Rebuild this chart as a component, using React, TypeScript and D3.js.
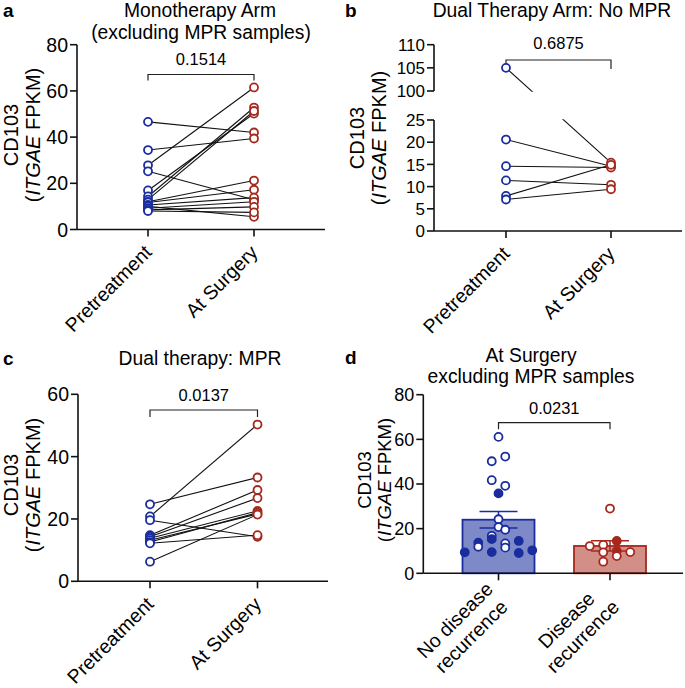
import React from "react";
import * as d3 from "d3";

// ---------- data ----------
const phases = ["Pretreatment", "At Surgery"];

// a: Monotherapy arm (excluding MPR samples)
const monoPre = [46.6, 34.4, 27.8, 25.2, 16.9, 14.3, 12.9, 12.0, 11.7, 10.6, 10.0, 9.2, 8.5, 8.0];
const monoSurgery = [42.0, 39.4, 61.5, 12.9, 50.2, 52.8, 51.3, 21.2, 17.2, 13.8, 5.5, 12.0, 9.8, 7.4];

// b: Dual therapy arm, no MPR
const dualNoPre = [105, 20.6, 14.6, 11.4, 7.9, 7.1];
const dualNoSurgery = [15.4, 14.6, 14.3, 10.4, 14.9, 9.4];

// c: Dual therapy, MPR
const mprPre = [24.7, 20.8, 19.6, 14.8, 14.3, 13.8, 13.2, 12.6, 12.2, 6.3];
const mprSurgery = [33.3, 50.3, 14.3, 29.3, 26.7, 22.6, 21.6, 22.0, 14.8, 21.4];

// d: At surgery, excluding MPR samples
const groupsD = [["No disease", "recurrence"], ["Disease", "recurrence"]];
const noRecurValues = [61.1, 50.2, 52.3, 41.7, 39.2, 35.8, 24.2, 20.7, 16.8, 19.5, 13.7, 15.3, 13.4, 14.5, 9.4, 11.9, 9.5, 11.5, 9.1, 10.3];
const noRecurSolid = [false, false, false, false, false, true, false, false, false, false, true, true, false, true, true, false, true, false, true, true];
const recurValues = [29.0, 12.7, 14.5, 12.2, 9.4, 10.0, 9.5, 5.2, 7.7];
const recurSolid = [false, false, true, false, false, true, false, false, false];

const ticksA = [0, 20, 40, 60, 80];
const ticksBLow = [0, 5, 10, 15, 20, 25];
const ticksBHigh = [100, 105, 110];
const ticksC = [0, 20, 40, 60];
const ticksD = [0, 20, 40, 60, 80];
const pValues = ["0.1514", "0.6875", "0.0137", "0.0231"];

// ---------- style ----------
const FONT = "Arial, 'Liberation Sans', Helvetica, sans-serif";
const BLUE = "#1a2d9e";
const RED = "#a5281c";
const BLUE_FILL = "#7e89c8";
const RED_FILL = "#d28f88";
const R = 4;
const SW = 1.8;
const TITLE = 19.3;
const PFS = 16.5;

function YLabel({ x, y, size, gap }: { x: number; y: number; size: number; gap: number }) {
  return (
    <g transform={`translate(${x},${y}) rotate(-90)`} fontSize={size} textAnchor="middle">
      <text x={0} y={0}>CD103</text>
      <text x={0} y={gap}>
        (<tspan fontStyle="italic">ITGAE</tspan> FPKM)
      </text>
    </g>
  );
}

function Bracket({ x1, x2, y, drop, text, textY }: any) {
  return (
    <g>
      <path d={`M${x1},${y + drop}V${y}H${x2}V${y + drop}`} fill="none" stroke="#222" strokeWidth={1.2} />
      <text x={(x1 + x2) / 2} y={textY} textAnchor="middle" fontSize={PFS}>{text}</text>
    </g>
  );
}

function YAxis({ x, scale, ticks, size, from, to }: any) {
  return (
    <g>
      <line x1={x} x2={x} y1={scale(from)} y2={scale(to)} stroke="#111" strokeWidth={1.6} />
      {ticks.map((t: number) => (
        <g key={t}>
          <line x1={x - 7} x2={x} y1={scale(t)} y2={scale(t)} stroke="#111" strokeWidth={1.6} />
          <text x={x - 9} y={scale(t)} dy="0.36em" textAnchor="end" fontSize={size}>{t}</text>
        </g>
      ))}
    </g>
  );
}

function XAxis({ x0, x1, y, xs, labels, size }: any) {
  return (
    <g>
      <line x1={x0} x2={x1} y1={y} y2={y} stroke="#111" strokeWidth={1.6} />
      {xs.map((xx: number, i: number) => (
        <g key={i}>
          <line x1={xx} x2={xx} y1={y} y2={y + 7} stroke="#111" strokeWidth={1.6} />
          <g transform={`translate(${xx},${y}) rotate(-45)`}>
            <text x={-13.5} y={20.5} textAnchor="end" fontSize={size}>{labels[i]}</text>
          </g>
        </g>
      ))}
    </g>
  );
}

function PairMarks({ pre, post, x, y }: any) {
  return (
    <g>
      {pre.map((v: number, i: number) => (
        <line key={"l" + i} x1={x(phases[0])} x2={x(phases[1])} y1={y(v)} y2={y(post[i])} stroke="#111" strokeWidth={1.1} />
      ))}
    </g>
  );
}

function PairPoints({ pre, post, x, y }: any) {
  return (
    <g>
      {pre.map((v: number, i: number) => (
        <circle key={"p" + i} cx={x(phases[0])} cy={y(v)} r={R} fill="white" stroke={BLUE} strokeWidth={SW} />
      ))}
      {post.map((v: number, i: number) => (
        <circle key={"s" + i} cx={x(phases[1])} cy={y(v)} r={R} fill="white" stroke={RED} strokeWidth={SW} />
      ))}
    </g>
  );
}

// Prism-like row scatter: points whose pixel heights are close share a row and spread symmetrically
function rowScatter(vals: number[], y: (v: number) => number, cx: number, rowH: number, spacing: number) {
  const order = vals.map((_, i) => i).sort((a, b) => vals[a] - vals[b]);
  const rows: number[][] = [];
  let cur: number[] = [];
  let startY = 0;
  for (const i of order) {
    const py = y(vals[i]);
    if (cur.length && startY - py >= rowH) {
      rows.push(cur);
      cur = [];
    }
    if (!cur.length) startY = py;
    cur.push(i);
  }
  if (cur.length) rows.push(cur);
  const out: { x: number; y: number }[] = new Array(vals.length);
  for (const row of rows) {
    const r = [...row].sort((a, b) => a - b);
    const n = r.length;
    r.forEach((i, k) => {
      out[i] = { x: cx + (k - (n - 1) / 2) * spacing, y: y(vals[i]) };
    });
  }
  return out;
}

export default function App() {
  // ----- panel a -----
  const xA = d3.scalePoint<string>().domain(phases).range([148, 254]);
  const yA = d3.scaleLinear().domain([0, 80]).range([229.5, 44.7]);

  // ----- panel b (broken axis) -----
  const xB = d3.scalePoint<string>().domain(phases).range([506, 611]);
  const yBLow = d3.scaleLinear().domain([0, 25]).range([231, 120]);
  const yBHigh = d3.scaleLinear().domain([100, 110]).range([91, 44.7]);
  const yB = (v: number) => (v <= 25 ? yBLow(v) : yBHigh(v));

  // ----- panel c -----
  const xC = d3.scalePoint<string>().domain(phases).range([150, 257.5]);
  const yC = d3.scaleLinear().domain([0, 60]).range([581.3, 394.3]);

  // ----- panel d -----
  const xD = d3.scalePoint<string>().domain(["0", "1"]).range([498.5, 610]);
  const yD = d3.scaleLinear().domain([0, 80]).range([573.3, 394.7]);
  const groupData = [
    { vals: noRecurValues, solid: noRecurSolid, stroke: BLUE, fill: BLUE_FILL },
    { vals: recurValues, solid: recurSolid, stroke: RED, fill: RED_FILL },
  ];
  const barW = 72;

  return (
    <svg width={685} height={688} style={{ position: "absolute", left: 0, top: 0, background: "white" }} fontFamily={FONT}>
      {/* ===== Panel a ===== */}
      <text x={3} y={17} fontWeight="bold" fontSize={19}>a</text>
      <text x={200} y={17} textAnchor="middle" fontSize={TITLE}>Monotherapy Arm</text>
      <text x={201} y={38.5} textAnchor="middle" fontSize={TITLE}>(excluding MPR samples)</text>
      <YLabel x={18} y={135} size={20} gap={22} />
      <YAxis x={77} scale={yA} ticks={ticksA} size={19.5} from={80} to={0} />
      <XAxis x0={77} x1={325} y={229.5} xs={phases.map((p) => xA(p))} labels={phases} size={19.5} />
      <Bracket x1={xA(phases[0])} x2={xA(phases[1])} y={74.5} drop={6} text={pValues[0]} textY={65} />
      <PairMarks pre={monoPre} post={monoSurgery} x={xA} y={yA} />
      <PairPoints pre={monoPre} post={monoSurgery} x={xA} y={yA} />

      {/* ===== Panel b ===== */}
      <text x={345} y={17} fontWeight="bold" fontSize={19}>b</text>
      <text x={552} y={17} textAnchor="middle" fontSize={TITLE}>Dual Therapy Arm: No MPR</text>
      <YLabel x={364} y={138} size={20} gap={22} />
      <g>
        <line x1={434} x2={434} y1={yBHigh(110)} y2={yBHigh(100)} stroke="#111" strokeWidth={1.6} />
        {ticksBHigh.map((t) => (
          <g key={t}>
            <line x1={427} x2={434} y1={yBHigh(t)} y2={yBHigh(t)} stroke="#111" strokeWidth={1.6} />
            <text x={425} y={yBHigh(t)} dy="0.36em" textAnchor="end" fontSize={17}>{t}</text>
          </g>
        ))}
        <line x1={434} x2={434} y1={yBLow(25)} y2={yBLow(0)} stroke="#111" strokeWidth={1.6} />
        {ticksBLow.map((t) => (
          <g key={t}>
            <line x1={427} x2={434} y1={yBLow(t)} y2={yBLow(t)} stroke="#111" strokeWidth={1.6} />
            <text x={425} y={yBLow(t)} dy="0.36em" textAnchor="end" fontSize={17}>{t}</text>
          </g>
        ))}
      </g>
      <XAxis x0={434} x1={682} y={231} xs={phases.map((p) => xB(p))} labels={phases} size={19.5} />
      <Bracket x1={xB(phases[0])} x2={xB(phases[1])} y={60} drop={9} text={pValues[1]} textY={49} />
      <PairMarks pre={dualNoPre} post={dualNoSurgery} x={xB} y={yB} />
      <rect x={438} y={yBHigh(100) + 0.8} width={240} height={yBLow(25) - yBHigh(100) - 1.6} fill="white" />
      <PairPoints pre={dualNoPre} post={dualNoSurgery} x={xB} y={yB} />

      {/* ===== Panel c ===== */}
      <text x={3} y={365} fontWeight="bold" fontSize={19}>c</text>
      <text x={200} y={365} textAnchor="middle" fontSize={TITLE}>Dual therapy: MPR</text>
      <YLabel x={18} y={485} size={20} gap={22} />
      <YAxis x={78} scale={yC} ticks={ticksC} size={19.5} from={60} to={0} />
      <XAxis x0={78} x1={328} y={581.3} xs={phases.map((p) => xC(p))} labels={phases} size={19.5} />
      <Bracket x1={xC(phases[0])} x2={xC(phases[1])} y={410} drop={7} text={pValues[2]} textY={401} />
      <PairMarks pre={mprPre} post={mprSurgery} x={xC} y={yC} />
      <PairPoints pre={mprPre} post={mprSurgery} x={xC} y={yC} />

      {/* ===== Panel d ===== */}
      <text x={345} y={364} fontWeight="bold" fontSize={19}>d</text>
      <text x={531} y={362} textAnchor="middle" fontSize={TITLE}>At Surgery</text>
      <text x={531} y={383} textAnchor="middle" fontSize={TITLE}>excluding MPR samples</text>
      <YLabel x={371} y={480} size={18.5} gap={19.5} />
      <YAxis x={423.3} scale={yD} ticks={ticksD} size={18} from={80} to={0} />
      {groupData.map((g, gi) => {
        const m = d3.mean(g.vals) as number;
        const sem = (d3.deviation(g.vals) as number) / Math.sqrt(g.vals.length);
        const cx = xD(String(gi)) as number;
        const pos = rowScatter(g.vals, yD, cx, 7, 13.5);
        return (
          <g key={gi}>
            <rect x={cx - barW / 2} y={yD(m)} width={barW} height={yD(0) - yD(m)} fill={g.fill} stroke={g.stroke} strokeWidth={1.8} />
            <line x1={cx} x2={cx} y1={yD(m + sem)} y2={yD(m - sem)} stroke={g.stroke} strokeWidth={1.5} />
            <line x1={cx - 19} x2={cx + 19} y1={yD(m + sem)} y2={yD(m + sem)} stroke={g.stroke} strokeWidth={1.5} />
            <line x1={cx - 19} x2={cx + 19} y1={yD(m - sem)} y2={yD(m - sem)} stroke={g.stroke} strokeWidth={1.5} />
            {g.vals.map((v, i) => (
              <circle key={i} cx={pos[i].x} cy={pos[i].y} r={R}
                fill={g.solid[i] ? g.stroke : "white"} stroke={g.stroke} strokeWidth={SW} />
            ))}
          </g>
        );
      })}
      <line x1={423.3} x2={683} y1={573.3} y2={573.3} stroke="#111" strokeWidth={1.6} />
      {groupsD.map((lines, gi) => {
        const cx = xD(String(gi)) as number;
        return (
          <g key={gi}>
            <line x1={cx} x2={cx} y1={573.3} y2={580.3} stroke="#111" strokeWidth={1.6} />
            <g transform={`translate(${cx},573.3) rotate(-45)`} fontSize={19.5} textAnchor="middle">
              <text x={-64} y={9}>{lines[0]}</text>
              <text x={-64} y={32}>{lines[1]}</text>
            </g>
          </g>
        );
      })}
      <Bracket x1={xD("0")} x2={xD("1")} y={422.7} drop={6.5} text={pValues[3]} textY={414} />
    </svg>
  );
}
